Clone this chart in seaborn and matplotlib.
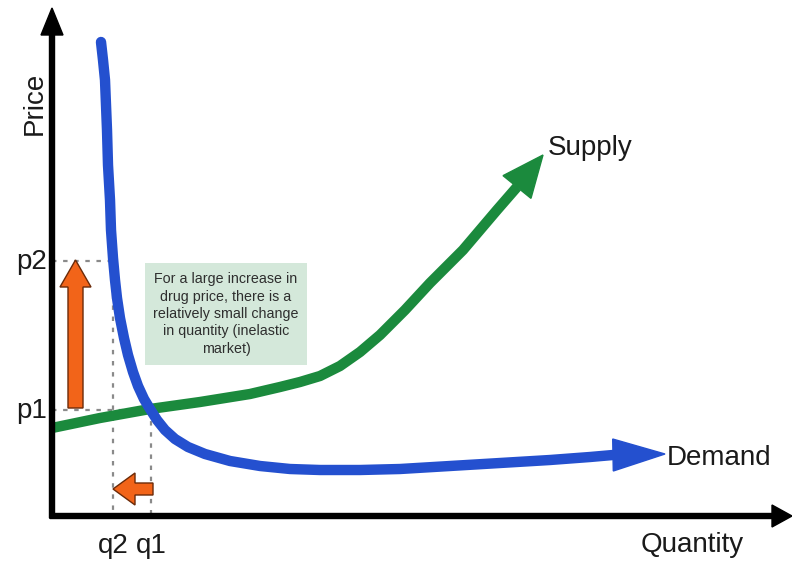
import matplotlib
matplotlib.use("Agg")
import matplotlib.pyplot as plt
import numpy as np
import seaborn as sns
from matplotlib.patches import FancyArrow, Polygon, Rectangle

# curve points (quantity, price); last point of each is the arrow tip
demand_q = [49, 51, 53, 54, 55, 56, 58, 59, 61, 63, 65, 68, 72, 76, 81, 86, 92, 98,
            105, 113, 123, 136, 153, 178, 208, 238, 268, 308, 348, 398, 448, 498,
            538, 561, 613]
demand_p = [474, 456, 436, 411, 386, 351, 316, 286, 258, 236, 218, 198, 178, 161, 144,
            130, 117, 107, 96, 86, 77, 69, 62, 55, 50, 47, 46, 46, 47, 50, 53, 56,
            59, 61, 62]
supply_q = [0, 48, 98, 148, 198, 228, 248, 268, 288, 308, 328, 353, 378, 411, 445, 465, 491]
supply_p = [88, 98, 107, 114, 122, 129, 134, 140, 150, 164, 181, 206, 233, 266, 306, 329, 361]

price_levels = [106, 255]
price_labels = ["p1", "p2"]
qty_levels = [99, 61]
qty_labels = ["q1", "q2"]

BLUE = "#2450cf"
GREEN = "#1b8a3d"
ORANGE = "#f26419"
FONT = "Liberation Sans"

sns.set_style("white")
plt.rcParams["font.family"] = [FONT, "DejaVu Sans"]

fig = plt.figure(figsize=(7.92, 5.63), dpi=100)
ax = fig.add_axes([0, 0, 1, 1])
ax.set_xlim(-52, 740)
ax.set_ylim(-47, 516)
ax.axis("off")


def head(q, p, width, color):
    # triangle from the second-to-last point to the last one
    base = np.array([q[-2], p[-2]], dtype=float)
    tip = np.array([q[-1], p[-1]], dtype=float)
    d = tip - base
    d /= np.hypot(*d)
    n = np.array([-d[1], d[0]])
    pts = [tip, base + n * width / 2, base - n * width / 2]
    ax.add_patch(Polygon(pts, closed=True, fc=color, ec=color, lw=1, zorder=4))


# dashed guides
for pl, ql in zip(price_levels, qty_levels):
    ax.plot([0, ql], [pl, pl], color="#8a8a8a", lw=1.6, ls=(0, (2, 3)), zorder=1)
    ax.plot([ql, ql], [pl, 0], color="#8a8a8a", lw=1.6, ls=(0, (2, 3)), zorder=1)

sns.lineplot(x=supply_q[:-1], y=supply_p[:-1], sort=False, estimator=None, ax=ax,
             color=GREEN, lw=7.5, solid_capstyle="butt", solid_joinstyle="round", zorder=3)
head(supply_q, supply_p, 36, GREEN)
sns.lineplot(x=demand_q[:-1], y=demand_p[:-1], sort=False, estimator=None, ax=ax,
             color=BLUE, lw=7.5, solid_capstyle="round", solid_joinstyle="round", zorder=3)
head(demand_q, demand_p, 32, BLUE)

# axes with arrowheads
ax.add_patch(FancyArrow(0, -2, 0, 510, width=5, head_width=22, head_length=27,
                        length_includes_head=True, fc="black", ec="black", zorder=5))
ax.add_patch(FancyArrow(-2, 0, 742, 0, width=5, head_width=22, head_length=20,
                        length_includes_head=True, fc="black", ec="black", zorder=5))

# orange change arrows
ax.add_patch(FancyArrow(23.5, price_levels[0] + 2, 0, price_levels[1] - price_levels[0] - 1,
                        width=15, head_width=31, head_length=27, length_includes_head=True,
                        fc=ORANGE, ec="#6b2a08", lw=1, zorder=4))
ax.add_patch(FancyArrow(qty_levels[0] + 2, 27, qty_levels[1] - qty_levels[0] - 2, 0,
                        width=12, head_width=32, head_length=22, length_includes_head=True,
                        fc=ORANGE, ec="#6b2a08", lw=1, zorder=4))

# note box
ax.add_patch(Rectangle((93, 151), 162, 102, fc="#d4e8da", ec="none", zorder=2))
ax.text(174, 202, "For a large increase in\ndrug price, there is a\nrelatively small change\n"
        "in quantity (inelastic\nmarket)", ha="center", va="center", fontsize=10.3,
        color="#2e2e2e", linespacing=1.3, zorder=6)

lab = dict(fontsize=20, color="#1a1a1a")
ax.text(-17, 413, "Price", rotation=90, ha="center", va="center", **lab)
ax.text(640, -36, "Quantity", ha="center", va="baseline", **lab)
ax.text(496, 361, "Supply", ha="left", va="baseline", **lab)
ax.text(615, 51, "Demand", ha="left", va="baseline", **lab)
for pl, t in zip(price_levels, price_labels):
    ax.text(-5, pl - 8, t, ha="right", va="baseline", **lab)
for ql, t in zip(qty_levels, qty_labels):
    ax.text(ql, -37, t, ha="center", va="baseline", **lab)

fig.savefig("out.png", dpi=100)
